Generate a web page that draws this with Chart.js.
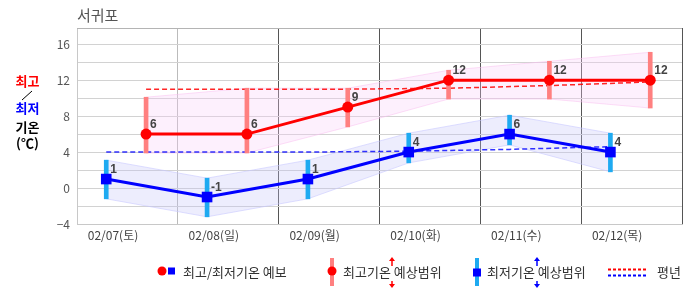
<!DOCTYPE html>
<html>
<head>
<meta charset="utf-8">
<script src="https://cdn.jsdelivr.net/npm/chart.js@4/dist/chart.umd.min.js"></script>
<style>
  html, body { margin: 0; padding: 0; background: #fff; }
  #chart { display: block; }
</style>
</head>
<body>
<canvas id="chart" width="686" height="295"></canvas>
<script>
// data
const days = ['02/07(토)', '02/08(일)', '02/09(월)', '02/10(화)', '02/11(수)', '02/12(목)'];
const maxTemp = [6, 6, 9, 12, 12, 12];
const minTemp = [1, -1, 1, 4, 6, 4];
const maxRangeLo = [3.9, 3.9, 6.8, 9.9, 9.9, 8.9];
const maxRangeHi = [10.1, 11.1, 11.1, 13.1, 14.1, 15.1];
const minRangeLo = [-1.2, -3.2, -1.2, 2.8, 4.8, 1.8];
const minRangeHi = [3.1, 1.1, 3.1, 6.1, 8.1, 6.1];
const normMax = [11.0, 11.0, 11.0, 11.1, 11.4, 11.8];
const normMin = [4.0, 4.0, 4.0, 4.1, 4.3, 4.6];
const yTicks = [-4, -2, 0, 2, 4, 6, 8, 10, 12, 14, 16];
const yMin = -4, yMax = 17.8;

// where inside a day column each series sits
const MAX_OFF = 0.685, MIN_OFF = 0.29;

const KR = '"Noto Sans CJK KR", "Noto Sans", sans-serif';

const pts = (vals, off) => vals.map((v, i) => ({ x: i + off, y: v }));
const rng = (lo, hi, off) => lo.map((v, i) => ({ x: i + off, y: [v, hi[i]] }));

const extras = {
  id: 'extras',
  afterDatasetsDraw(chart) {
    const ctx = chart.ctx;
    ctx.save();
    ctx.font = 'bold 12px "Liberation Sans", Arial, sans-serif';
    ctx.fillStyle = '#444';
    ctx.textAlign = 'left';
    ctx.textBaseline = 'middle';
    [0, 1].forEach(di => {
      const vals = chart.data.datasets[di].data;
      chart.getDatasetMeta(di).data.forEach((p, i) => {
        ctx.fillText(String(vals[i].y), p.x + 4, p.y - 9);
      });
    });
    ctx.restore();
  },
  afterDraw(chart) {
    const ctx = chart.ctx;
    const a = chart.chartArea;
    ctx.save();
    // top border
    ctx.strokeStyle = '#b4b4b4';
    ctx.lineWidth = 1;
    ctx.beginPath();
    ctx.moveTo(a.left, Math.round(a.top) + 0.5);
    ctx.lineTo(a.right, Math.round(a.top) + 0.5);
    ctx.stroke();

    // title
    ctx.font = '15px ' + KR;
    ctx.fillStyle = '#555';
    ctx.textBaseline = 'middle';
    ctx.textAlign = 'left';
    ctx.fillText('서귀포', 77, 15.5);

    // y axis label
    ctx.font = 'bold 13px ' + KR;
    ctx.textAlign = 'center';
    ctx.fillStyle = '#ff0000';
    ctx.fillText('최고', 27.5, 81);
    ctx.strokeStyle = '#000';
    ctx.beginPath();
    ctx.moveTo(22, 100);
    ctx.lineTo(32, 91);
    ctx.stroke();
    ctx.fillStyle = '#0000ff';
    ctx.fillText('최저', 27.5, 108.5);
    ctx.fillStyle = '#000';
    ctx.fillText('기온', 27.5, 127.5);
    ctx.fillText('(℃)', 27.5, 143);

    // legend
    const ly = 272;
    ctx.font = '13px ' + KR;
    ctx.textAlign = 'left';
    ctx.fillStyle = '#333';
    ctx.fillText('최고/최저기온 예보', 183, ly);
    ctx.fillText('최고기온 예상범위', 343, ly);
    ctx.fillText('최저기온 예상범위', 487, ly);
    ctx.fillText('평년', 657, ly);

    ctx.fillStyle = '#ff0000';
    ctx.beginPath(); ctx.arc(162, 271, 4.5, 0, Math.PI * 2); ctx.fill();
    ctx.fillStyle = '#0000ff';
    ctx.fillRect(168, 267.5, 7, 7);

    ctx.fillStyle = '#ff8080';
    ctx.fillRect(330, 258, 4, 28);
    ctx.fillStyle = '#ff0000';
    ctx.beginPath(); ctx.arc(332, 271, 4.5, 0, Math.PI * 2); ctx.fill();

    ctx.fillStyle = '#1eaaf1';
    ctx.fillRect(475, 258, 4, 28);
    ctx.fillStyle = '#0000ff';
    ctx.fillRect(473, 268.5, 8, 8);

    const arrows = (x, color) => {
      ctx.strokeStyle = color;
      ctx.fillStyle = color;
      ctx.lineWidth = 1.5;
      ctx.beginPath();
      ctx.moveTo(x, 260); ctx.lineTo(x, 266);
      ctx.moveTo(x, 281); ctx.lineTo(x, 285);
      ctx.stroke();
      ctx.beginPath();
      ctx.moveTo(x, 257); ctx.lineTo(x - 3, 261); ctx.lineTo(x + 3, 261); ctx.closePath();
      ctx.moveTo(x, 288); ctx.lineTo(x - 3, 284); ctx.lineTo(x + 3, 284); ctx.closePath();
      ctx.fill();
    };
    arrows(392, '#ff0000');
    arrows(537, '#0000ff');

    ctx.lineWidth = 2;
    ctx.setLineDash([3, 2]);
    ctx.strokeStyle = '#ff0000';
    ctx.beginPath(); ctx.moveTo(608, 269.5); ctx.lineTo(648, 269.5); ctx.stroke();
    ctx.strokeStyle = '#0000ff';
    ctx.beginPath(); ctx.moveTo(608, 275.5); ctx.lineTo(648, 275.5); ctx.stroke();
    ctx.restore();
  }
};

const ctx = document.getElementById('chart').getContext('2d');
const chart = new Chart(ctx, {
  type: 'line',
  data: {
    datasets: [
      { // 0 max forecast
        data: pts(maxTemp, MAX_OFF), borderColor: '#ff0000', borderWidth: 3,
        pointRadius: 5.5, pointBackgroundColor: '#ff0000', pointBorderWidth: 0,
        tension: 0, order: 0
      },
      { // 1 min forecast
        data: pts(minTemp, MIN_OFF), borderColor: '#0000ff', borderWidth: 3,
        pointStyle: 'rect', pointRadius: 7.5, pointBackgroundColor: '#0000ff', pointBorderWidth: 0,
        tension: 0, order: 0
      },
      { // 2 max range bars
        type: 'bar', data: rng(maxRangeLo, maxRangeHi, MAX_OFF),
        backgroundColor: '#ff8080', barThickness: 4, grouped: false, order: 1
      },
      { // 3 min range bars
        type: 'bar', data: rng(minRangeLo, minRangeHi, MIN_OFF),
        backgroundColor: '#1eaaf1', barThickness: 4, grouped: false, order: 1
      },
      { // 4 normal max
        data: pts(normMax, MAX_OFF), borderColor: 'rgba(255,0,0,0.85)', borderWidth: 1.5,
        borderDash: [5, 3], pointRadius: 0, order: 2
      },
      { // 5 normal min
        data: pts(normMin, MIN_OFF), borderColor: 'rgba(0,0,255,0.8)', borderWidth: 1.5,
        borderDash: [5, 3], pointRadius: 0, order: 2
      },
      { // 6 max band low
        data: pts(maxRangeLo, MAX_OFF), borderColor: 'rgba(250,190,240,0.5)', borderWidth: 1,
        pointRadius: 0, fill: false, order: 3
      },
      { // 7 max band high
        data: pts(maxRangeHi, MAX_OFF), borderColor: 'rgba(250,190,240,0.5)', borderWidth: 1,
        pointRadius: 0, fill: 6, backgroundColor: 'rgba(250,205,250,0.3)', order: 3
      },
      { // 8 min band low
        data: pts(minRangeLo, MIN_OFF), borderColor: 'rgba(200,200,255,0.6)', borderWidth: 1,
        pointRadius: 0, fill: false, order: 3
      },
      { // 9 min band high
        data: pts(minRangeHi, MIN_OFF), borderColor: 'rgba(200,200,255,0.6)', borderWidth: 1,
        pointRadius: 0, fill: 8, backgroundColor: 'rgba(195,195,250,0.3)', order: 3
      }
    ]
  },
  options: {
    responsive: false,
    animation: false,
    devicePixelRatio: 1,
    layout: { autoPadding: false, padding: { left: 0, top: 28, right: 4, bottom: 0 } },
    plugins: { legend: { display: false }, tooltip: { enabled: false } },
    scales: {
      x: {
        type: 'linear', min: 0, max: days.length, offset: false,
        afterBuildTicks: (s) => { s.ticks = days.map((d, i) => ({ value: i })).concat([{ value: days.length }]); },
        afterFit: (s) => { s.height = 71; s.paddingRight = 0; s.paddingLeft = 0; },
        grid: {
          offset: false, drawTicks: true, tickLength: 4, tickColor: 'rgba(0,0,0,0)', lineWidth: 1,
          color: (c) => c.tick && c.tick.value <= 1 ? (c.tick.value === 0 ? '#c8c8c8' : '#bbbbbb') : '#555555'
        },
        border: { display: true, color: '#c8c8c8' },
        ticks: {
          padding: 0, labelOffset: 36, maxRotation: 0, autoSkip: false,
          color: '#444', font: { family: KR, size: 12 },
          callback: (v, i) => days[i] || ''
        }
      },
      y: {
        min: yMin, max: yMax,
        afterBuildTicks: (s) => { s.ticks = yTicks.map(v => ({ value: v })); },
        afterFit: (s) => { s.width = 77; },
        grid: { drawTicks: false, color: '#d2d2d2' },
        border: { display: true, color: '#c8c8c8' },
        ticks: {
          padding: 7, color: '#555', font: { family: KR, size: 12 },
          callback: (v) => v % 4 === 0 ? (v < 0 ? '\u2212' + (-v) : String(v)) : ''
        }
      }
    }
  },
  plugins: [extras]
});
</script>
</body>
</html>
